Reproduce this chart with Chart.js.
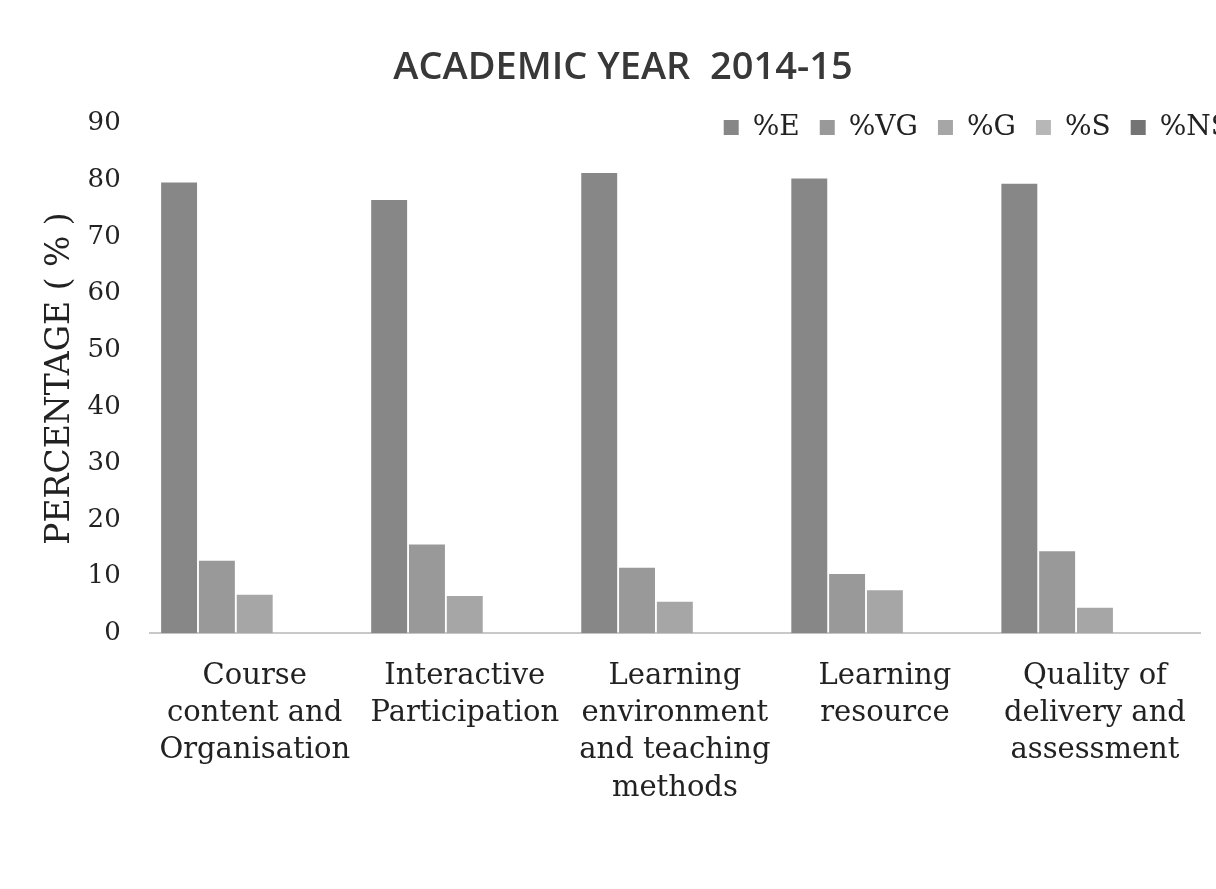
<!DOCTYPE html>
<html>
<head>
<meta charset="utf-8">
<title>Academic Year 2014-15</title>
<script src="https://cdn.jsdelivr.net/npm/chart.js@4.4.1/dist/chart.umd.min.js"></script>
<style>
    body { margin: 0; background: #ffffff; overflow: hidden; }
    #wrap { width: 1216px; height: 889px; }
</style>
</head>
<body>
<div id="wrap"><canvas id="grafica" width="1216" height="889"></canvas></div>
<script>
// categorias del eje x (una linea por elemento)
const categorias = [
    ['Course', 'content and', 'Organisation'],
    ['Interactive', 'Participation'],
    ['Learning', 'environment', 'and teaching', 'methods'],
    ['Learning', 'resource'],
    ['Quality of', 'delivery and', 'assessment']
];

const series = ['%E', '%VG', '%G', '%S', '%NS'];

// valores
const valE  = [79.6, 76.5, 81.3, 80.3, 79.4];
const valVG = [12.8, 15.7, 11.6, 10.5, 14.5];
const valG  = [6.8, 6.6, 5.6, 7.6, 4.5];
const valS  = [0, 0, 0, 0, 0];
const valNS = [0, 0, 0, 0, 0];

const yTicks = [0, 10, 20, 30, 40, 50, 60, 70, 80, 90];

const colores = ['#878787', '#999999', '#a6a6a6', '#b7b7b7', '#747474'];

// la leyenda se superpone al area y sale un poco del borde derecho, como en la imagen
const moverCajas = {
    id: 'moverCajas',
    afterLayout(chart) {
        chart.legend.left += 50;
        chart.legend.right += 50;
        chart.legend.top += 3;
        chart.legend.bottom += 40;
        chart.titleBlock.left += 18;
        chart.titleBlock.right += 18;
    }
};

const ctx = document.getElementById('grafica').getContext('2d');
const valores = [valE, valVG, valG, valS, valNS];

const grafica = new Chart(ctx, {
    type: 'bar',
    data: {
        labels: categorias,
        datasets: series.map((s, i) => ({
            label: s,
            data: valores[i],
            backgroundColor: colores[i],
            borderWidth: 0,
            categoryPercentage: 0.9,
            barPercentage: 0.95
        }))
    },
    options: {
        responsive: false,
        animation: false,
        layout: {
            padding: { left: 10, right: 16, top: 0, bottom: 58 }
        },
        plugins: {
            title: {
                display: true,
                text: 'ACADEMIC YEAR  2014-15',
                color: '#383838',
                font: { family: 'Open Sans', size: 38, weight: '600' },
                padding: { top: 45, bottom: 0 }
            },
            legend: {
                position: 'top',
                align: 'end',
                maxHeight: 33,
                labels: {
                    color: '#222222',
                    font: { family: 'DejaVu Serif', size: 28 },
                    boxWidth: 15,
                    boxHeight: 15,
                    padding: 20
                }
            },
            tooltip: { enabled: false }
        },
        scales: {
            x: {
                grid: { display: false, drawTicks: false },
                border: { display: true, color: '#c8c8c8', width: 2 },
                ticks: {
                    color: '#222222',
                    font: { family: 'DejaVu Serif', size: 29, lineHeight: 1.29 },
                    padding: 24,
                    maxRotation: 0,
                    autoSkip: false
                }
            },
            y: {
                min: 0,
                max: 90,
                afterBuildTicks: (axis) => {
                    axis.ticks = yTicks.map(v => ({ value: v }));
                },
                grid: { display: false, drawTicks: false },
                border: { display: false },
                ticks: {
                    color: '#222222',
                    font: { family: 'DejaVu Serif', size: 26 },
                    padding: 29
                },
                title: {
                    display: true,
                    text: 'PERCENTAGE ( % )',
                    color: '#222222',
                    font: { family: 'DejaVu Serif', size: 33 },
                    padding: { top: 31, bottom: -22 }
                }
            }
        }
    },
    plugins: [moverCajas]
});
</script>
</body>
</html>
